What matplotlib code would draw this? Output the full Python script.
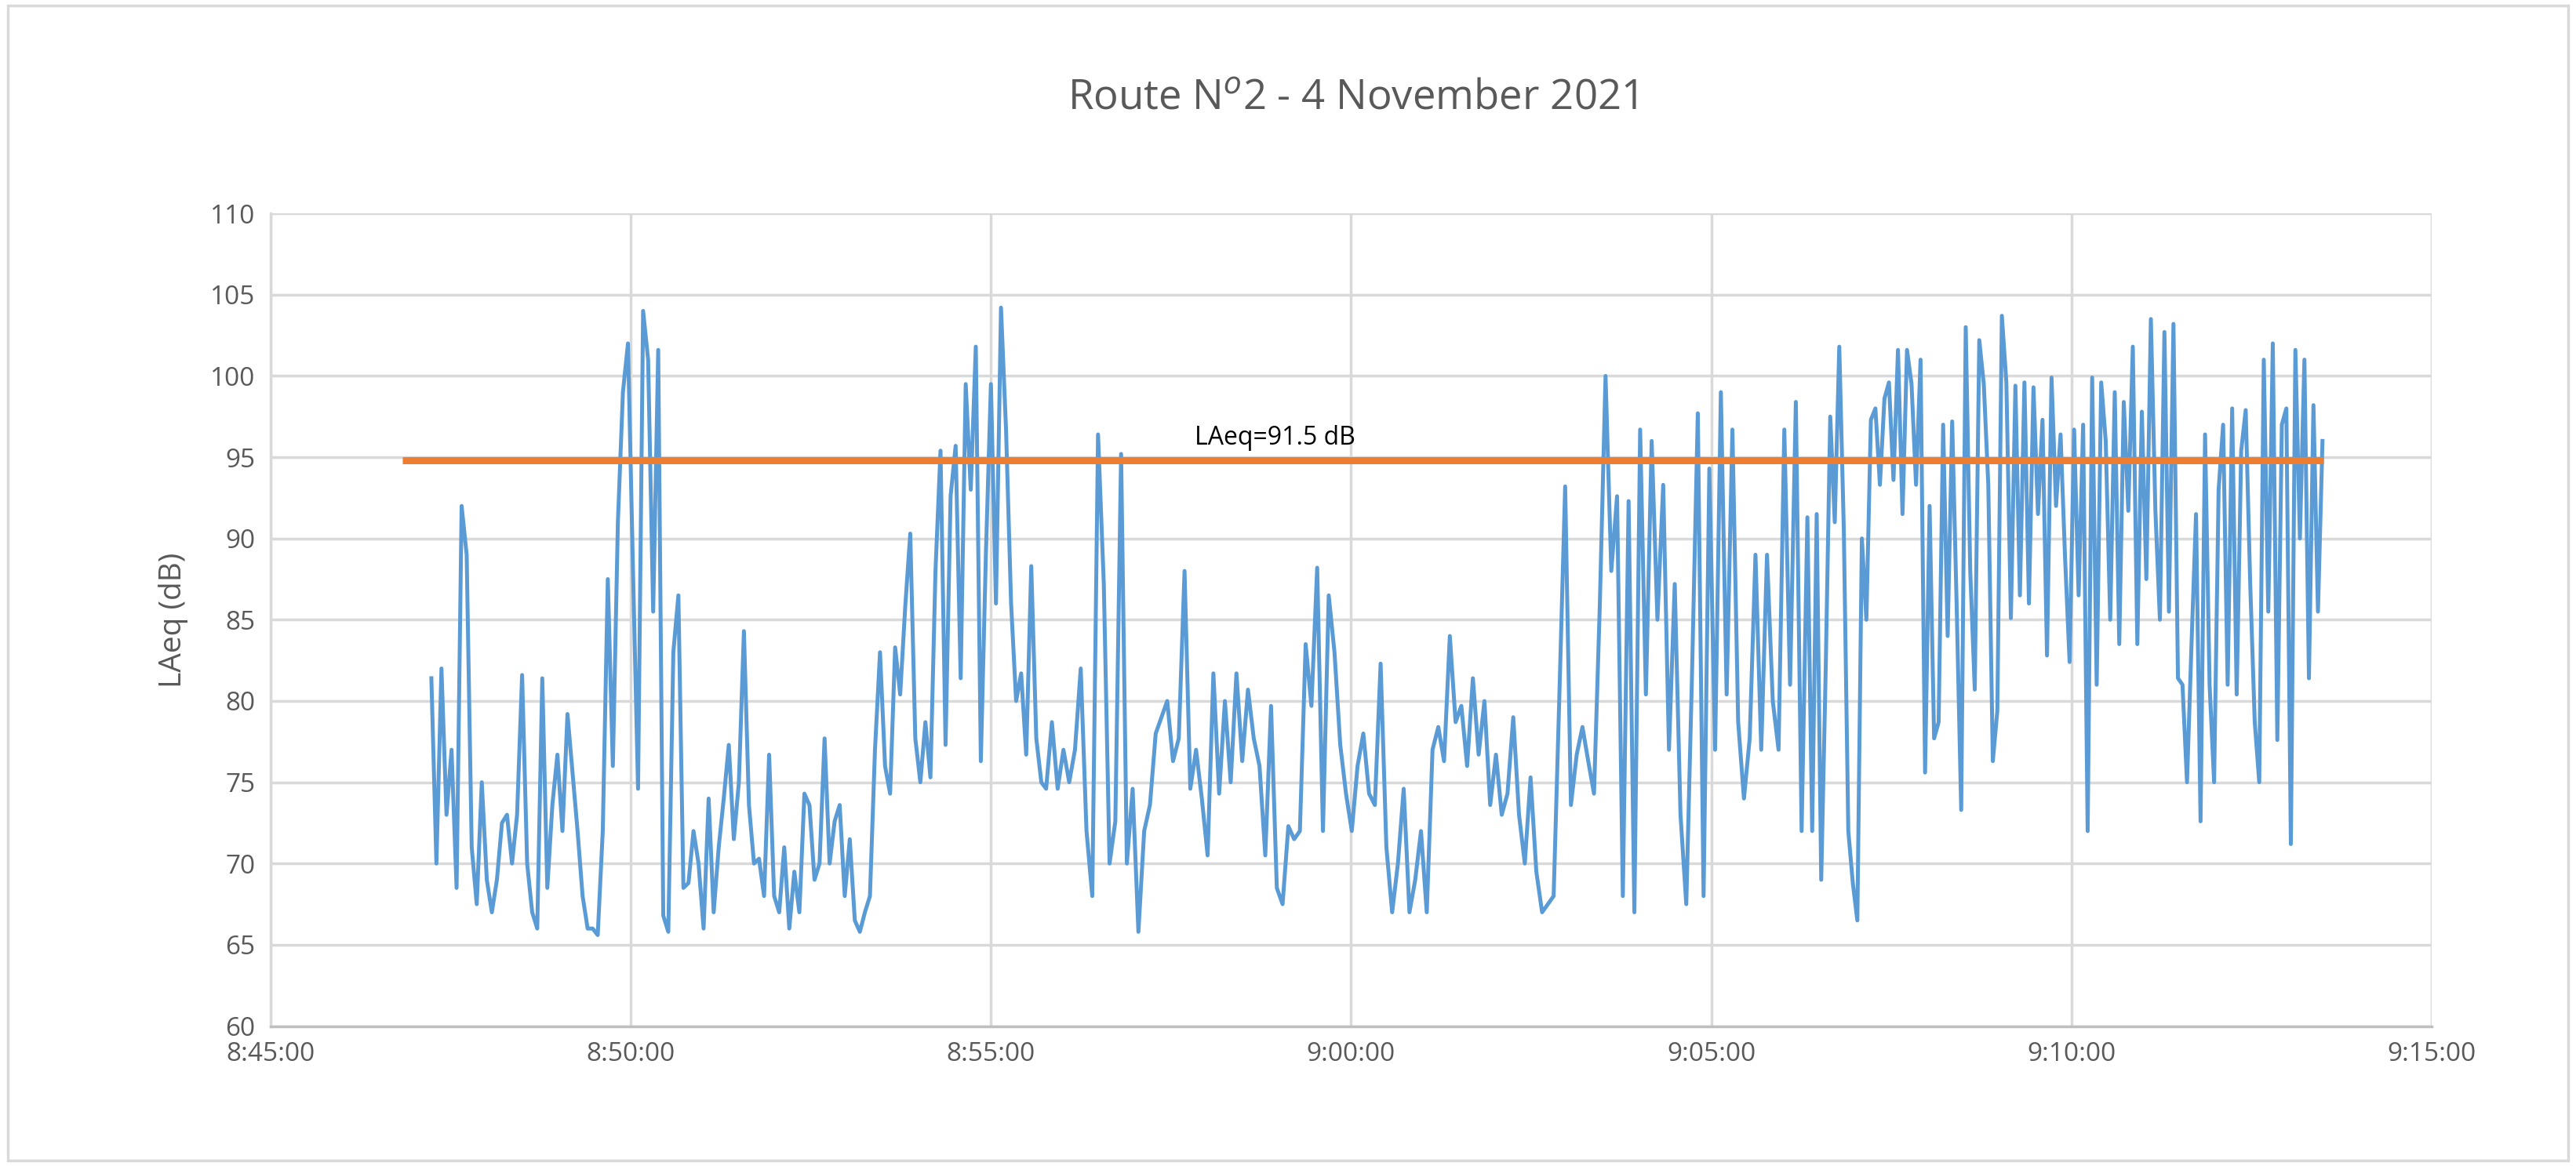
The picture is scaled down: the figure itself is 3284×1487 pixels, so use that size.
import matplotlib.pyplot as plt
import matplotlib.dates as mdates
import numpy as np
import pandas as pd

# LAeq readings (dB) left to right, in three stretches
laeq_part1 = [
    81.4, 70.0, 82.0, 73.0, 77.0, 68.5, 92.0, 89.0, 71.0, 67.5, 75.0, 69.0, 67.0, 69.0, 72.5,
    73.0, 70.0, 73.0, 81.6, 70.0, 67.0, 66.0, 81.4, 68.5, 73.6, 76.7, 72.0, 79.2, 75.6, 72.0,
    68.0, 66.0, 66.0, 65.6, 72.0, 87.5, 76.0, 91.0, 99.0, 102.0, 88.0, 74.6, 104.0, 101.0, 85.5,
    101.6, 66.8, 65.8, 83.0, 86.5, 68.5, 68.8, 72.0, 70.0, 66.0, 74.0, 67.0, 71.0, 74.0, 77.3,
    71.5, 75.0, 84.3, 73.6, 70.0, 70.3, 68.0, 76.7, 68.0, 67.0, 71.0, 66.0, 69.5, 67.0, 74.3,
    73.6, 69.0, 70.0, 77.7, 70.0, 72.6, 73.6, 68.0, 71.5, 66.5, 65.8, 67.0, 68.0, 77.0, 83.0,
    76.0, 74.3, 83.3, 80.4, 85.8, 90.3, 77.7, 75.0, 78.7, 75.3, 88.0, 95.4, 77.3, 92.6, 95.7,
    81.4, 99.5, 93.0, 101.8, 76.3, 89.0, 99.5, 86.0, 104.2, 96.7, 86.0, 80.0, 81.7, 76.7, 88.3,
    77.7, 75.0,
]
laeq_part2 = [
    74.6, 78.7, 74.6, 77.0, 75.0, 77.0, 82.0, 72.0, 68.0, 96.4, 87.2, 70.0, 72.6, 95.2, 70.0,
    74.6, 65.8, 72.0, 73.6, 78.0, 79.0, 80.0, 76.3, 77.7, 88.0, 74.6, 77.0, 74.0, 70.5, 81.7,
    74.3, 80.0, 75.0, 81.7, 76.3, 80.7, 77.7, 76.0, 70.5, 79.7, 68.5, 67.5, 72.3, 71.5, 72.0,
    83.5, 79.7, 88.2, 72.0, 86.5, 83.0, 77.3, 74.3, 72.0, 76.0, 78.0, 74.3, 73.6, 82.3, 71.0,
    67.0, 70.0, 74.6, 67.0, 69.0, 72.0, 67.0, 77.0, 78.4, 76.3, 84.0, 78.7, 79.7, 76.0, 81.4,
    76.7, 80.0, 73.6, 76.7, 73.0, 74.3, 79.0, 73.0, 70.0, 75.3, 69.5, 67.0, 67.5, 68.0, 80.4,
    93.2, 73.6, 76.7, 78.4, 76.3, 74.3, 85.8, 100.0, 88.0, 92.6, 68.0, 92.3, 67.0, 96.7, 80.4,
    96.0, 85.0, 93.3, 77.0, 87.2, 73.0, 67.5, 81.7, 97.7, 68.0, 94.3, 77.0, 99.0, 80.4, 96.7,
    78.7, 74.0, 77.7, 89.0, 77.0, 89.0, 80.0, 77.0, 96.7, 81.0, 98.4, 72.0, 91.3,
]
laeq_part3 = [
    72.0, 91.5, 69.0, 82.0, 97.5, 91.0, 101.8, 90.6, 72.0, 68.8, 66.5, 90.0, 85.0, 97.3, 98.0,
    93.3, 98.6, 99.6, 93.6, 101.6, 91.5, 101.6, 99.5, 93.3, 101.0, 75.6, 92.0, 77.7, 78.7, 97.0,
    84.0, 97.2, 85.8, 73.3, 103.0, 88.0, 80.7, 102.2, 99.5, 93.3, 76.3, 79.4, 103.7, 99.6, 85.1,
    99.4, 86.5, 99.6, 86.0, 99.3, 91.5, 97.3, 82.8, 99.9, 92.0, 96.4, 88.8, 82.4, 96.7, 86.5,
    97.0, 72.0, 99.9, 81.0, 99.6, 96.0, 85.0, 99.0, 83.5, 98.4, 91.7, 101.8, 83.5, 97.8, 87.5,
    103.5, 91.7, 85.0, 102.7, 85.5, 103.2, 81.4, 81.0, 75.0, 83.5, 91.5, 72.6, 96.4, 81.0, 75.0,
    93.0, 97.0, 81.0, 98.0, 80.4, 95.4, 97.9, 87.2, 78.7, 75.0, 101.0, 85.5, 102.0, 77.6, 97.0,
    98.0, 71.2, 101.6, 90.0, 101.0, 81.4, 98.2, 85.5, 96.0,
]
# start / end time of each stretch
part_times = [
    ('2021-11-04 08:47:14', '2021-11-04 08:55:42'),
    ('2021-11-04 08:55:46', '2021-11-04 09:06:20'),
    ('2021-11-04 09:06:24', '2021-11-04 09:13:29'),
]

laeq_level = 94.8
laeq_line_start = '2021-11-04 08:46:50'
laeq_line_end = '2021-11-04 09:13:30'
laeq_label = 'LAeq=91.5 dB'

x_min = '2021-11-04 08:45:00'
x_max = '2021-11-04 09:15:00'
title = 'Route N$^{o}$2 - 4 November 2021'
y_label = 'LAeq (dB)'

text_color = '#595959'
plt.rcParams['font.family'] = ['Open Sans', 'DejaVu Sans']

times = []
values = []
for part, (t0, t1) in zip([laeq_part1, laeq_part2, laeq_part3], part_times):
    times.extend(pd.date_range(t0, t1, periods=len(part)))
    values.extend(part)

fig = plt.figure(figsize=(32.84, 14.87), dpi=100)
ax = fig.add_axes([0.105, 0.12, 0.839, 0.697])

ax.plot(times, values, color='#5b9bd5', lw=3.6, zorder=3)
ax.plot(pd.to_datetime([laeq_line_start, laeq_line_end]), [laeq_level, laeq_level],
        color='#ed7d31', lw=6.5, solid_capstyle='butt', zorder=4)
ax.text(pd.Timestamp('2021-11-04 08:57:50'), laeq_level + 0.6, laeq_label,
        fontsize=23, color='black', va='bottom', ha='left', zorder=5)

ax.set_xlim(pd.Timestamp(x_min), pd.Timestamp(x_max))
ax.set_ylim(60, 110)
ax.set_yticks(np.arange(60, 111, 5))
ax.xaxis.set_major_locator(mdates.MinuteLocator(byminute=range(0, 60, 5)))
ax.xaxis.set_major_formatter(
    plt.FuncFormatter(lambda v, p: '{d.hour}:{d.minute:02d}:{d.second:02d}'.format(d=mdates.num2date(v))))

ax.grid(True, color='#d9d9d9', lw=2.5, zorder=0)
for side in ['top', 'right']:
    ax.spines[side].set_visible(False)
ax.spines['left'].set_color('#d9d9d9')
ax.spines['left'].set_linewidth(2.5)
ax.spines['bottom'].set_color('#bfbfbf')
ax.spines['bottom'].set_linewidth(2.5)
ax.tick_params(length=0, labelsize=24, colors=text_color, pad=14)

ax.set_ylabel(y_label, fontsize=28, color=text_color, labelpad=20)
fig.text(0.525, 0.915, title, ha='center', va='center', fontsize=38, color=text_color)

fig.patches.append(plt.Rectangle((0.003, 0.005), 0.994, 0.99, transform=fig.transFigure,
                                 fill=False, edgecolor='#d9d9d9', lw=2.5))

fig.savefig('out.png', dpi=100)
